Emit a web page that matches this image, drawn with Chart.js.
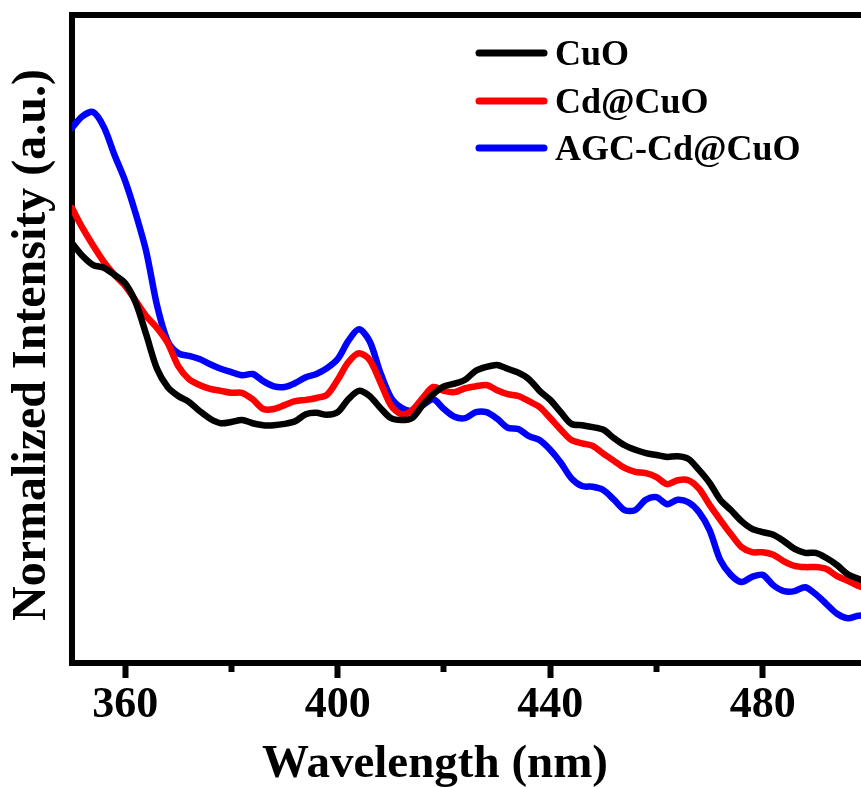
<!DOCTYPE html>
<html>
<head>
<meta charset="utf-8">
<script src="https://cdn.jsdelivr.net/npm/chart.js@4"></script>
<style>
  html, body { margin: 0; padding: 0; background: #fff; }
  #wrap { width: 861px; height: 787px; }
</style>
</head>
<body>
<div id="wrap"><canvas id="myChart" width="861" height="787"></canvas></div>
<script>
// wavelength grid (nm)
const wavelengths = [350, 352, 354, 356, 358, 360, 362, 364, 366, 368, 370, 372, 374, 376, 378, 380,
  382, 384, 386, 388, 390, 392, 394, 396, 398, 400, 402, 404, 406, 408, 410, 412, 414, 416, 418, 420,
  422, 424, 426, 428, 430, 432, 434, 436, 438, 440, 442, 444, 446, 448, 450, 452, 454, 456, 458, 460,
  462, 464, 466, 468, 470, 472, 474, 476, 478, 480, 482, 484, 486, 488, 490, 492, 494, 496, 498, 500];

const cuo = [64.8, 62.8, 61.4, 61.0, 59.9, 58.6, 55.6, 50.6, 45.4, 42.6, 41.2, 40.3, 38.9, 37.7, 37.0, 37.2,
  37.5, 37.0, 36.7, 36.7, 36.9, 37.3, 38.4, 38.6, 38.3, 38.7, 40.7, 42.0, 41.2, 39.4, 37.8, 37.5, 37.8, 39.8, 41.5, 42.7,
  43.1, 43.7, 45.1, 45.7, 46.0, 45.4, 44.8, 43.8, 42.0, 40.6, 38.7, 36.9, 36.7, 36.4, 36.0, 34.7, 33.6, 32.9, 32.4, 32.1,
  31.8, 31.9, 31.5, 29.8, 27.8, 25.2, 23.6, 21.9, 20.7, 20.2, 19.8, 18.8, 17.6, 17.0, 17.0, 16.2, 15.1, 13.7, 13.0, 12.3];

const cdCuo = [70.2, 67.1, 64.4, 61.9, 59.9, 58.2, 55.9, 53.5, 51.7, 49.4, 45.8, 43.8, 42.9, 42.3, 42.0, 41.7,
  41.7, 40.7, 39.2, 39.2, 39.8, 40.4, 40.6, 40.9, 41.4, 43.7, 46.4, 47.8, 46.8, 43.4, 39.8, 38.4, 39.0, 40.9, 42.6, 42.0,
  41.8, 42.4, 42.7, 42.9, 42.1, 41.5, 41.2, 40.4, 39.5, 37.8, 36.0, 34.4, 33.9, 33.5, 32.3, 31.2, 30.1, 29.5, 29.3, 28.7,
  27.6, 28.2, 28.2, 26.9, 24.4, 22.1, 19.9, 17.9, 17.1, 17.1, 16.7, 15.7, 15.0, 14.8, 14.8, 14.5, 13.4, 12.7, 11.9, 11.4];

const agcCdCuo = [82.6, 84.4, 85.0, 82.7, 78.4, 74.4, 69.3, 63.4, 55.2, 49.7, 47.8, 47.4, 46.9, 46.1, 45.4, 44.9,
  44.4, 44.6, 43.5, 42.7, 42.6, 43.2, 44.1, 44.6, 45.5, 46.9, 49.7, 51.5, 49.7, 44.9, 41.0, 39.4, 38.9, 39.8, 40.7, 39.2,
  38.0, 37.8, 38.7, 38.7, 37.7, 36.3, 36.1, 35.0, 34.4, 32.9, 30.9, 28.5, 27.3, 27.2, 26.7, 25.2, 23.6, 23.6, 25.2, 25.6,
  24.5, 25.2, 24.8, 23.3, 20.5, 15.9, 13.6, 12.5, 13.3, 13.6, 12.0, 11.1, 11.1, 11.7, 10.6, 9.1, 7.6, 6.9, 7.3, 7.4];

// x axis ticks: every 20 nm, labels every 40 nm
const tickValues = [360, 380, 400, 420, 440, 460, 480];
const labelledTicks = [360, 400, 440, 480];

const seriesNames = ['CuO', 'Cd@CuO', 'AGC-Cd@CuO'];
const seriesColors = ['#000000', '#ff0000', '#0000ff'];
const seriesValues = [cuo, cdCuo, agcCdCuo];

const FONT = '"Liberation Serif", "Times New Roman", serif';

const toPoints = (vals) => vals.map((v, i) => ({ x: wavelengths[i], y: v }));

// top frame line, axis titles and legend
const extras = {
  id: 'extras',
  afterDraw(chart) {
    const { ctx, chartArea } = chart;
    ctx.save();
    ctx.strokeStyle = '#000';
    ctx.lineWidth = 6;
    ctx.lineCap = 'butt';
    ctx.beginPath();
    ctx.moveTo(chartArea.left - 3, chartArea.top);
    ctx.lineTo(chartArea.right, chartArea.top);
    ctx.stroke();

    ctx.fillStyle = '#000';
    ctx.font = 'bold 47px ' + FONT;
    ctx.textAlign = 'center';
    ctx.textBaseline = 'alphabetic';
    ctx.fillText('Wavelength (nm)', 435, 777);

    ctx.save();
    ctx.translate(45, 345);
    ctx.rotate(-Math.PI / 2);
    ctx.font = 'bold 48px ' + FONT;
    ctx.fillText('Normalized Intensity (a.u.)', 0, 0);
    ctx.restore();

    // legend
    const rows = [53, 101, 148];
    ctx.font = 'bold 36px ' + FONT;
    ctx.textAlign = 'left';
    ctx.lineCap = 'round';
    ctx.lineWidth = 7;
    seriesNames.forEach((name, i) => {
      ctx.strokeStyle = seriesColors[i];
      ctx.beginPath();
      ctx.moveTo(479, rows[i]);
      ctx.lineTo(544, rows[i]);
      ctx.stroke();
      ctx.fillStyle = '#000';
      ctx.fillText(name, 555, rows[i] + 12);
    });
    ctx.restore();
  }
};

const myChart = new Chart(document.getElementById('myChart'), {
  type: 'line',
  data: {
    datasets: seriesValues.map((vals, i) => ({
      label: seriesNames[i],
      data: toPoints(vals),
      borderColor: seriesColors[i],
      borderWidth: 6.5,
      pointRadius: 0,
      tension: 0.3,
      borderJoinStyle: 'round',
      borderCapStyle: 'round',
      clip: 0
    }))
  },
  options: {
    responsive: false,
    animation: false,
    events: [],
    layout: { padding: { top: 15, right: 0, left: 0, bottom: 0 } },
    plugins: { legend: { display: false }, tooltip: { enabled: false } },
    scales: {
      x: {
        type: 'linear',
        min: 350,
        max: 498.5,
        afterFit: (s) => { s.height = 124; },
        afterBuildTicks: (s) => { s.ticks = tickValues.map(v => ({ value: v })); },
        border: { display: true, width: 6, color: '#000' },
        grid: {
          drawOnChartArea: false,
          drawTicks: true,
          tickLength: 15,
          tickWidth: 6,
          tickColor: '#000',
          tickBorderDash: (c) => (c.tick && !labelledTicks.includes(c.tick.value)) ? [6, 40] : []
        },
        ticks: {
          padding: 1,
          color: '#000',
          font: { family: FONT, size: 44, weight: 'bold' },
          maxRotation: 0,
          autoSkip: false,
          callback: (v) => (labelledTicks.includes(v) ? v : '')
        }
      },
      y: {
        min: 0,
        max: 100,
        afterFit: (s) => { s.width = 72; },
        border: { display: true, width: 6, color: '#000' },
        grid: { drawOnChartArea: false, drawTicks: false },
        ticks: { display: false }
      }
    }
  },
  plugins: [extras]
});
</script>
</body>
</html>
